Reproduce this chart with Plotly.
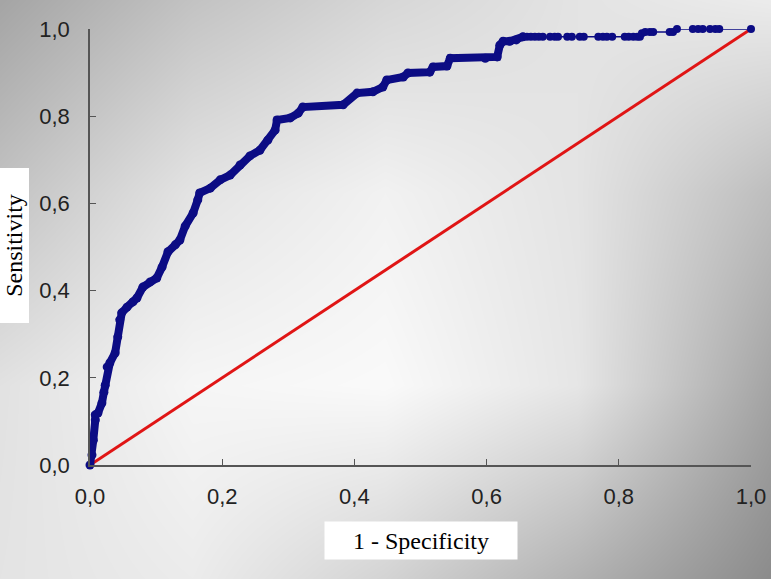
import base64, struct, zlib
import numpy as np
import plotly.graph_objects as go

# ---- data ----
fpr_main = [0.000, 0.003, 0.005, 0.008, 0.008, 0.012, 0.018, 0.021, 0.023, 0.026,
            0.030, 0.038, 0.042, 0.045, 0.048, 0.056, 0.065, 0.071, 0.080, 0.091,
            0.101, 0.109, 0.118, 0.129, 0.136, 0.144, 0.156, 0.163, 0.166, 0.182,
            0.197, 0.212, 0.227, 0.242, 0.257, 0.269, 0.280, 0.283, 0.303, 0.315,
            0.322, 0.383, 0.404, 0.428, 0.443, 0.449, 0.474, 0.481, 0.514, 0.519,
            0.540, 0.545, 0.598, 0.616, 0.620, 0.625, 0.635, 0.645, 0.655]
tpr_main = [0.000, 0.023, 0.057, 0.103, 0.115, 0.119, 0.142, 0.167, 0.183, 0.225,
            0.234, 0.257, 0.294, 0.333, 0.349, 0.362, 0.374, 0.383, 0.408, 0.420,
            0.429, 0.454, 0.489, 0.505, 0.516, 0.548, 0.578, 0.608, 0.624, 0.635,
            0.654, 0.665, 0.688, 0.709, 0.722, 0.745, 0.768, 0.791, 0.796, 0.807,
            0.821, 0.826, 0.853, 0.856, 0.867, 0.883, 0.890, 0.899, 0.901, 0.913,
            0.915, 0.933, 0.933, 0.936, 0.963, 0.972, 0.972, 0.975, 0.982]

fpr_tail = [0.655, 0.661, 0.667, 0.673, 0.679, 0.685, 0.696, 0.703, 0.708, 0.722,
            0.729, 0.741, 0.747, 0.769, 0.776, 0.782, 0.790, 0.809, 0.815, 0.822,
            0.828, 0.832, 0.835, 0.840, 0.847, 0.852, 0.877, 0.882, 0.888, 0.912,
            0.920, 0.927, 0.938, 0.946, 0.952, 1.000]
tpr_tail = [0.982, 0.982, 0.982, 0.982, 0.982, 0.982, 0.982, 0.982, 0.982, 0.982,
            0.982, 0.982, 0.982, 0.982, 0.982, 0.982, 0.982, 0.982, 0.982, 0.982,
            0.982, 0.982, 0.990, 0.993, 0.993, 0.993, 0.993, 0.993, 1.000, 1.000,
            1.000, 1.000, 1.000, 1.000, 1.000, 1.000]

diag_x = [0.0, 1.0]
diag_y = [0.0, 1.0]

tick_vals = [0.0, 0.2, 0.4, 0.6, 0.8, 1.0]
tick_text = ["0,0", "0,2", "0,4", "0,6", "0,8", "1,0"]

x_title = "1 - Specificity"
y_title = "Sensitivity"

# ---- background gradient image ----
W, H = 771, 579
grid = np.array([
    [165, 195, 215, 228, 236],
    [195, 228, 242, 228, 190],
    [226, 246, 250, 230, 165],
    [228, 236, 212, 178, 140],
], dtype=float)
gy = np.linspace(0, grid.shape[0] - 1, H)
gx = np.linspace(0, grid.shape[1] - 1, W)
tmp = np.array([np.interp(gx, np.arange(grid.shape[1]), row) for row in grid])
img = np.array([np.interp(gy, np.arange(grid.shape[0]), tmp[:, j]) for j in range(W)]).T
img = np.clip(img, 0, 255).astype(np.uint8)

def png_gray(a):
    h, w = a.shape
    raw = b"".join(b"\x00" + a[i].tobytes() for i in range(h))
    def chunk(t, d):
        c = struct.pack(">I", len(d)) + t + d
        return c + struct.pack(">I", zlib.crc32(t + d) & 0xffffffff)
    return (b"\x89PNG\r\n\x1a\n" + chunk(b"IHDR", struct.pack(">IIBBBBB", w, h, 8, 0, 0, 0, 0))
            + chunk(b"IDAT", zlib.compress(raw, 9)) + chunk(b"IEND", b""))

src = "data:image/png;base64," + base64.b64encode(png_gray(img)).decode()

ML, MR, MT, MB = 90, 20, 29, 114
PW, PH = W - ML - MR, H - MT - MB

navy = "#0c0c84"
fig = go.Figure()
fig.add_trace(go.Scatter(x=diag_x, y=diag_y, mode="lines",
                         line=dict(color="#e01515", width=3), cliponaxis=False,
                         hoverinfo="skip"))
fig.add_trace(go.Scatter(x=fpr_main, y=tpr_main, mode="lines+markers",
                         line=dict(color=navy, width=8),
                         marker=dict(color=navy, size=9), cliponaxis=False))
fig.add_trace(go.Scatter(x=fpr_tail, y=tpr_tail, mode="lines+markers",
                         line=dict(color=navy, width=1.5),
                         marker=dict(color=navy, size=8), cliponaxis=False))

axis_common = dict(range=[0, 1], showgrid=False, zeroline=False, showline=True,
                   linecolor="#555555", linewidth=1.5, ticks="inside", ticklen=6,
                   tickcolor="#555555", tickwidth=1.2, tickvals=tick_vals,
                   ticktext=tick_text, automargin=False,
                   tickfont=dict(family="Liberation Sans, Arial", size=22, color="#222222"))
fig.update_xaxes(**axis_common, ticklabelstandoff=11)
fig.update_yaxes(**axis_common, ticklabelstandoff=14)

fig.add_layout_image(dict(source=src, xref="paper", yref="paper",
                          x=-ML / PW, y=1 + MT / PH, sizex=W / PW, sizey=H / PH,
                          sizing="stretch", layer="below", xanchor="left", yanchor="top"))

fig.add_annotation(text=y_title, xref="paper", yref="paper",
                   x=(14.5 - ML) / PW, y=(MT + PH - 246) / PH, xanchor="center",
                   yanchor="middle", textangle=-90, showarrow=False,
                   bgcolor="white", width=154, height=29, borderpad=0,
                   font=dict(family="Liberation Serif, Times New Roman", size=24, color="black"))
fig.add_annotation(text=x_title, xref="paper", yref="paper",
                   x=(421 - ML) / PW, y=(MT + PH - 540.5) / PH, xanchor="center",
                   yanchor="middle", showarrow=False,
                   bgcolor="white", width=192, height=37, borderpad=0,
                   font=dict(family="Liberation Serif, Times New Roman", size=24, color="black"))

fig.update_layout(width=W, height=H, margin=dict(l=ML, r=MR, t=MT, b=MB, autoexpand=False),
                  paper_bgcolor="white", plot_bgcolor="rgba(0,0,0,0)",
                  showlegend=False)

fig.write_html("out.html", config={"displayModeBar": False},
               post_script="document.body.style.margin='0';document.body.style.overflow='hidden';")
